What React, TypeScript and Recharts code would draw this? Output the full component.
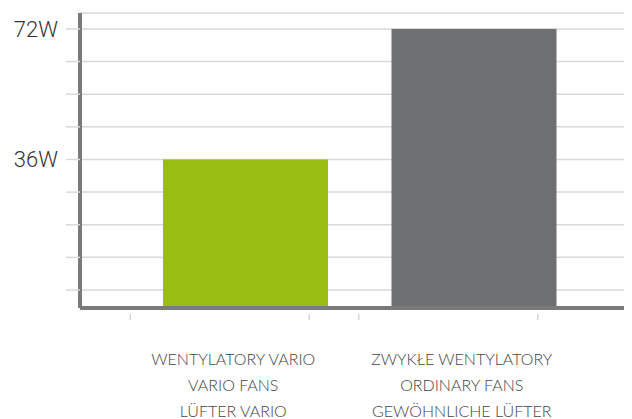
import React from 'react';
import { BarChart, Bar, Cell, CartesianGrid, XAxis, YAxis } from 'recharts';

const LABELS_PL = ['WENTYLATORY VARIO', 'ZWYKŁE WENTYLATORY'];
const LABELS_EN = ['VARIO FANS', 'ORDINARY FANS'];
const LABELS_DE = ['LÜFTER VARIO', 'GEWÖHNLICHE LÜFTER'];
const POWER_W = [36, 72];
const BAR_COLORS = ['#9abd12', '#6e6f70'];

const Y_TICKS = [0, 9, 18, 27, 36, 45, 54, 63, 72];
const Y_LABELED = [36, 72];

const data = LABELS_PL.map((name, i) => ({
    name,
    en: LABELS_EN[i],
    de: LABELS_DE[i],
    power: POWER_W[i],
}));

// bars run down to the axis line, below the zero gridline
const FullBar = (props: any) => {
    const { x, y, width, fill, background } = props;
    const bottom = background ? background.y + background.height : y + props.height + 16;
    return <rect x={x} y={y} width={width} height={bottom - y} fill={fill} />;
};

const CategoryTick = ({ x, y, index }: any) => {
    const cx = x - 12;
    const lines = [LABELS_PL[index], LABELS_EN[index], LABELS_DE[index]];
    return (
        <g>
            <line x1={x - 115} x2={x - 115} y1={y + 6} y2={y + 12} stroke="#d6d6d6" strokeWidth={1.5} />
            <line x1={x + 64} x2={x + 64} y1={y + 6} y2={y + 12} stroke="#d6d6d6" strokeWidth={1.5} />
            {lines.map((t, i) => (
                <text
                    key={i}
                    x={cx}
                    y={y + 57 + i * 26}
                    textAnchor="middle"
                    fontFamily="Lato"
                    fontWeight={300}
                    fontSize={16}
                    fill="#444"
                >
                    {t}
                </text>
            ))}
        </g>
    );
};

export default function App() {
    return (
        <BarChart
            width={624}
            height={411}
            data={data}
            margin={{ top: 5, right: 0, left: 0, bottom: 0 }}
        >
            <CartesianGrid horizontal vertical={false} stroke="#d9d9d9" strokeWidth={1.5} />
            <YAxis
                type="number"
                domain={[0, 76.4]}
                ticks={Y_TICKS}
                interval={0}
                width={72}
                padding={{ top: 0, bottom: 18 }}
                tickSize={14}
                tickMargin={8}
                tickLine={{ stroke: '#d9d9d9', strokeWidth: 1.5 }}
                axisLine={{ stroke: '#7a7a7a', strokeWidth: 4 }}
                tickFormatter={(v: number) => (Y_LABELED.includes(v) ? `${v}W` : '')}
                tick={{ fill: '#333', fontSize: 22, fontFamily: 'Roboto', fontWeight: 300 }}
            />
            <Bar dataKey="power" barSize={165} shape={<FullBar />} isAnimationActive={false}>
                {data.map((entry, index) => (
                    <Cell key={`cell-${index}`} fill={BAR_COLORS[index]} />
                ))}
            </Bar>
            <XAxis
                dataKey="name"
                height={111}
                padding={{ left: 51, right: 44 }}
                tickLine={false}
                tickSize={0}
                tickMargin={0}
                interval={0}
                axisLine={{ stroke: '#7a7a7a', strokeWidth: 4 }}
                tick={<CategoryTick />}
            />
        </BarChart>
    );
}
